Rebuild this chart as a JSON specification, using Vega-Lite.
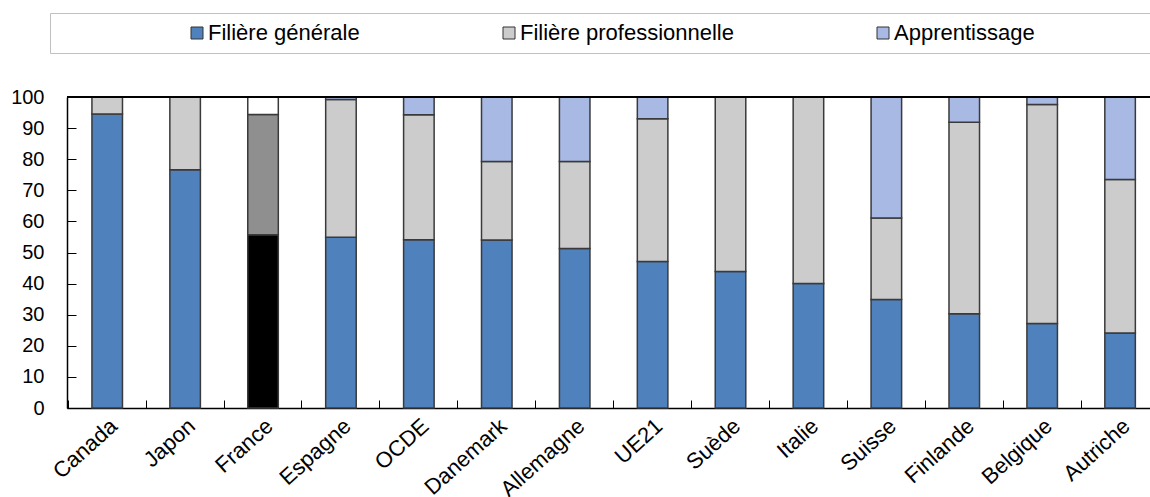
{
  "$schema": "https://vega.github.io/schema/vega-lite/v6.json",
  "width": 1083,
  "height": 311,
  "autosize": {"type": "none"},
  "padding": {"left": 67, "top": 97, "right": 0, "bottom": 89},
  "background": "white",
  "config": {
    "view": {"stroke": null},
    "font": "Liberation Sans",
    "axisY": {"title": null, "tickCount": 10, "tickSize": -9, "tickColor": "#000", "labelPadding": 32, "labelFontSize": 20, "labelColor": "#000", "grid": false, "domainColor": "#000", "domainWidth": 1.5}
  },
  "data": {"values": [
    {"pays": "Canada", "serie": "Filière générale", "valeur": 94.5, "ordre": 1},
    {"pays": "Canada", "serie": "Filière professionnelle", "valeur": 5.5, "ordre": 2},
    {"pays": "Japon", "serie": "Filière générale", "valeur": 76.6, "ordre": 1},
    {"pays": "Japon", "serie": "Filière professionnelle", "valeur": 23.4, "ordre": 2},
    {"pays": "France", "serie": "France générale", "valeur": 55.7, "ordre": 1},
    {"pays": "France", "serie": "France professionnelle", "valeur": 38.7, "ordre": 2},
    {"pays": "France", "serie": "France apprentissage", "valeur": 5.6, "ordre": 3},
    {"pays": "Espagne", "serie": "Filière générale", "valeur": 54.9, "ordre": 1},
    {"pays": "Espagne", "serie": "Filière professionnelle", "valeur": 44.3, "ordre": 2},
    {"pays": "Espagne", "serie": "Apprentissage", "valeur": 0.8, "ordre": 3},
    {"pays": "OCDE", "serie": "Filière générale", "valeur": 54.1, "ordre": 1},
    {"pays": "OCDE", "serie": "Filière professionnelle", "valeur": 40.2, "ordre": 2},
    {"pays": "OCDE", "serie": "Apprentissage", "valeur": 5.7, "ordre": 3},
    {"pays": "Danemark", "serie": "Filière générale", "valeur": 54.0, "ordre": 1},
    {"pays": "Danemark", "serie": "Filière professionnelle", "valeur": 25.3, "ordre": 2},
    {"pays": "Danemark", "serie": "Apprentissage", "valeur": 20.7, "ordre": 3},
    {"pays": "Allemagne", "serie": "Filière générale", "valeur": 51.3, "ordre": 1},
    {"pays": "Allemagne", "serie": "Filière professionnelle", "valeur": 28.0, "ordre": 2},
    {"pays": "Allemagne", "serie": "Apprentissage", "valeur": 20.7, "ordre": 3},
    {"pays": "UE21", "serie": "Filière générale", "valeur": 47.1, "ordre": 1},
    {"pays": "UE21", "serie": "Filière professionnelle", "valeur": 45.9, "ordre": 2},
    {"pays": "UE21", "serie": "Apprentissage", "valeur": 7.0, "ordre": 3},
    {"pays": "Suède", "serie": "Filière générale", "valeur": 43.9, "ordre": 1},
    {"pays": "Suède", "serie": "Filière professionnelle", "valeur": 56.1, "ordre": 2},
    {"pays": "Italie", "serie": "Filière générale", "valeur": 40.0, "ordre": 1},
    {"pays": "Italie", "serie": "Filière professionnelle", "valeur": 60.0, "ordre": 2},
    {"pays": "Suisse", "serie": "Filière générale", "valeur": 34.9, "ordre": 1},
    {"pays": "Suisse", "serie": "Filière professionnelle", "valeur": 26.2, "ordre": 2},
    {"pays": "Suisse", "serie": "Apprentissage", "valeur": 38.9, "ordre": 3},
    {"pays": "Finlande", "serie": "Filière générale", "valeur": 30.3, "ordre": 1},
    {"pays": "Finlande", "serie": "Filière professionnelle", "valeur": 61.6, "ordre": 2},
    {"pays": "Finlande", "serie": "Apprentissage", "valeur": 8.1, "ordre": 3},
    {"pays": "Belgique", "serie": "Filière générale", "valeur": 27.2, "ordre": 1},
    {"pays": "Belgique", "serie": "Filière professionnelle", "valeur": 70.4, "ordre": 2},
    {"pays": "Belgique", "serie": "Apprentissage", "valeur": 2.4, "ordre": 3},
    {"pays": "Autriche", "serie": "Filière générale", "valeur": 24.1, "ordre": 1},
    {"pays": "Autriche", "serie": "Filière professionnelle", "valeur": 49.4, "ordre": 2},
    {"pays": "Autriche", "serie": "Apprentissage", "valeur": 26.5, "ordre": 3}
  ]},
  "layer": [
    {
      "mark": {"type": "bar", "stroke": "#3a3a3a", "strokeWidth": 1.5},
      "encoding": {
        "x": {
          "field": "pays", "type": "nominal", "sort": null,
          "scale": {"paddingInner": 0.608, "paddingOuter": 0.254, "align": 0.63},
          "axis": {"title": null, "labelAngle": -42, "labelFontSize": 22, "labelColor": "#000", "labelPadding": 15, "labelOverlap": false, "tickSize": -8, "tickColor": "#000", "bandPosition": -0.7755, "domainColor": "#000", "domainWidth": 1.5}
        },
        "y": {
          "field": "valeur", "type": "quantitative", "stack": "zero", "title": null,
          "scale": {"domain": [0, 100], "nice": false}
        },
        "color": {
          "field": "serie", "type": "nominal",
          "scale": {
            "domain": ["Filière générale", "Filière professionnelle", "Apprentissage", "France générale", "France professionnelle", "France apprentissage"],
            "range": ["#4f81bd", "#cccccc", "#a8b9e3", "#000000", "#8f8f8f", "#ffffff"]
          },
          "legend": {
            "values": ["Filière générale", "Filière professionnelle", "Apprentissage"],
            "title": " ", "titleOrient": "right", "titlePadding": 120,
            "orient": "none", "legendX": -17, "legendY": -84,
            "direction": "horizontal", "columns": 3,
            "symbolType": "square", "symbolSize": 144, "symbolStrokeColor": "#333", "symbolStrokeWidth": 1,
            "labelFontSize": 22, "labelColor": "#000", "labelOffset": 0, "labelLimit": 400,
            "symbolOffset": 127, "columnPadding": 11, "padding": 9,
            "strokeColor": "#c0c0c0", "fillColor": "#ffffff"
          }
        },
        "order": {"field": "ordre", "type": "quantitative"}
      }
    },
    {
      "mark": {"type": "rule", "color": "#000", "strokeWidth": 1.5},
      "encoding": {"y": {"datum": 100, "type": "quantitative", "title": null}}
    }
  ]
}
